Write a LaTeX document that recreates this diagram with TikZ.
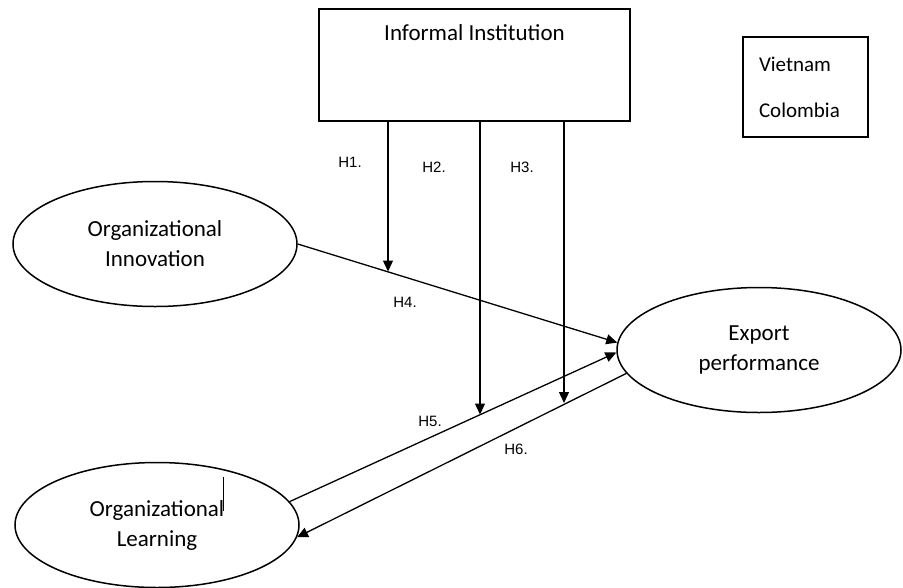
\documentclass[tikz,border=0pt]{standalone}
\usepackage{fontspec}
\setmainfont{Carlito}
\newfontfamily\hypfont{Liberation Sans}
\usetikzlibrary{positioning,shapes.geometric,arrows.meta}

\begin{document}
\begin{tikzpicture}[x=1pt, y=-1pt,
	construct/.style={ellipse, draw, line width=1.5pt, minimum width=284pt, minimum height=125pt, inner sep=0pt, align=center, font=\fontsize{23}{30}\selectfont},
	box/.style={rectangle, draw, line width=1.3pt, inner sep=0pt},
	arr/.style={-{Triangle[length=11pt,width=10pt]}, line width=1.3pt},
	hyp/.style={font=\hypfont\fontsize{15}{17}\selectfont, inner sep=0pt}]

	\useasboundingbox (0,0) rectangle (903,587);

	\node[box, minimum width=311pt, minimum height=112pt, label={[anchor=north, inner sep=0pt, yshift=-16pt, font=\fontsize{23}{28}\selectfont]north:Informal Institution}] (inst) at (474.5, 65) {};
	\node[box, minimum height=100pt, text width=93pt, inner xsep=16pt, align=left, font=\fontsize{21}{46}\selectfont] (ctry) at (805.5, 87) {Vietnam\\Colombia};

	\node[construct] (OI) at (155, 244) {Organizational\\Innovation};
	\node[construct] (EP) at (759, 350) {Export\\performance};
	\node[construct] (OL) at (157, 525) {Organizational\\Learning};

	\draw[arr] (OI.east) -- (EP.177);
	\draw[arr] (OL.10) -- (EP.181);
	\draw[arr] (EP.190) -- (OL.355);

	\coordinate (h1end) at (388, 271.5);
	\coordinate (h2end) at (480, 414.5);
	\coordinate (h3end) at (564, 403);

	\draw[arr] (inst.south -| h1end) -- (h1end);
	\draw[arr] (inst.south -| h2end) -- (h2end);
	\draw[arr] (inst.south -| h3end) -- (h3end);

	\draw[line width=1pt] (223, 477) -- (223, 511);

	\node[hyp] (h1) at (350, 162) {H1.};
	\node[hyp] (h2) at (434, 167) {H2.};
	\node[hyp] (h3) at (522, 167) {H3.};
	\node[hyp] (h4) at (405, 302) {H4.};
	\node[hyp] (h5) at (430, 421) {H5.};
	\node[hyp] (h6) at (516, 449) {H6.};

\end{tikzpicture}
\end{document}
